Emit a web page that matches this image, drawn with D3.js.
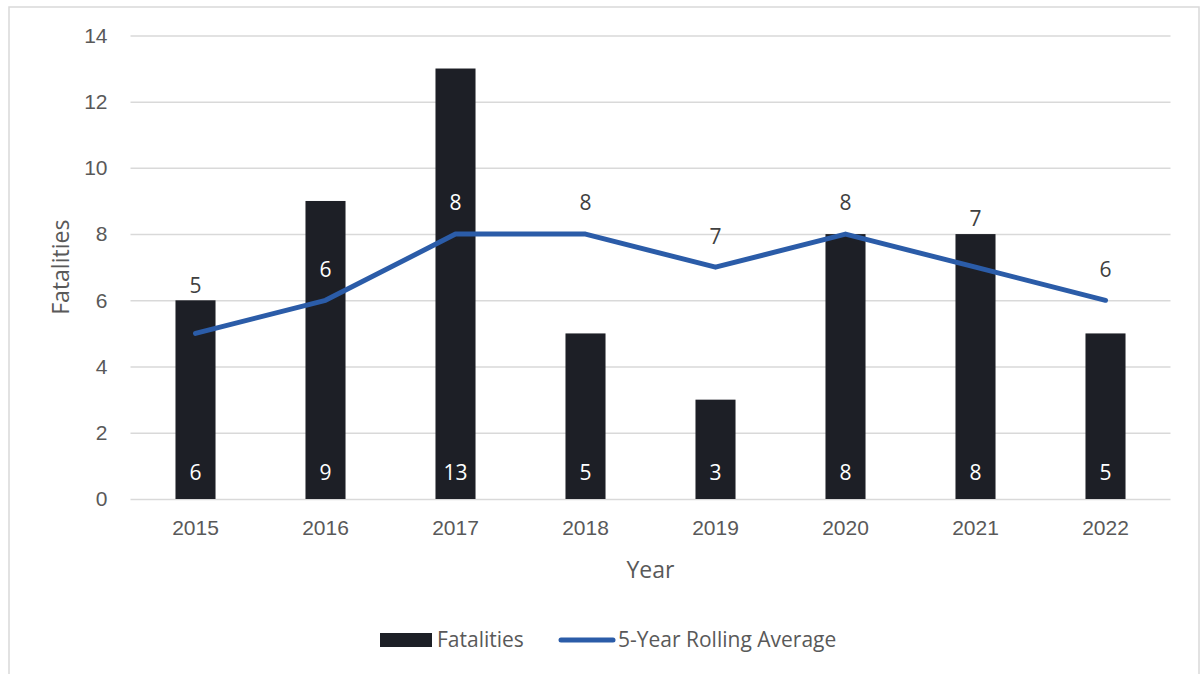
<!DOCTYPE html>
<html>
<head>
<meta charset="utf-8">
<script src="https://cdn.jsdelivr.net/npm/d3@7"></script>
<style>
  html, body { margin: 0; padding: 0; background: #fff; }
  svg { display: block; font-family: "Open Sans", "Noto Sans", sans-serif; }
</style>
</head>
<body>
<svg id="chart" width="1201" height="674"></svg>
<script>
// Yearly fatalities with a 5-year rolling average
const years = ["2015", "2016", "2017", "2018", "2019", "2020", "2021", "2022"];
const fatalities = [6, 9, 13, 5, 3, 8, 8, 5];
const rollingAvg = [5, 6, 8, 8, 7, 8, 7, 6];
const yTicks = [0, 2, 4, 6, 8, 10, 12, 14];
const seriesNames = ["Fatalities", "5-Year Rolling Average"];

const svg = d3.select("#chart");
const plot = { left: 130.5, right: 1170.5, top: 35.4, bottom: 499 };

const barColor = "#1d1f26";
const lineColor = "#2b5ca8";
const textColor = "#595959";
const fs = "21px";
const titleFs = "23px";

// Outer frame
svg.append("rect")
  .attr("x", 9).attr("y", 7)
  .attr("width", 1190).attr("height", 680)
  .attr("fill", "none")
  .attr("stroke", "#d9d9d9")
  .attr("stroke-width", 1.5);

const x = d3.scaleBand()
  .domain(years)
  .range([plot.left, plot.right])
  .paddingInner(0.692)
  .paddingOuter(0.346);

const y = d3.scaleLinear()
  .domain([0, 14])
  .range([plot.bottom, plot.top]);

// Horizontal gridlines with left-side value labels
const yAxis = d3.axisLeft(y)
  .tickValues(yTicks)
  .tickSize(-(plot.right - plot.left))
  .tickPadding(23);

const gy = svg.append("g")
  .attr("transform", `translate(${plot.left},0)`)
  .call(yAxis);
gy.select(".domain").remove();
gy.selectAll(".tick line").attr("stroke", "#d9d9d9").attr("stroke-width", 1.5);
gy.selectAll(".tick text")
  .attr("fill", textColor)
  .style("font-size", fs);

// Category axis labels
const xAxis = d3.axisBottom(x).tickSize(0).tickPadding(21);
const gx = svg.append("g")
  .attr("transform", `translate(0,${plot.bottom})`)
  .call(xAxis);
gx.select(".domain").remove();
gx.selectAll(".tick text")
  .attr("fill", textColor)
  .style("font-size", fs);

// Bars
const cx = d => x(d) + x.bandwidth() / 2;
svg.append("g").selectAll("rect")
  .data(years)
  .join("rect")
  .attr("x", d => x(d))
  .attr("width", x.bandwidth())
  .attr("y", (d, i) => y(fatalities[i]))
  .attr("height", (d, i) => y(0) - y(fatalities[i]))
  .attr("fill", barColor);

// Bar value labels at the inside base
svg.append("g").selectAll("text")
  .data(years)
  .join("text")
  .attr("x", d => cx(d))
  .attr("y", y(0) - 26)
  .attr("dy", "0.35em")
  .attr("text-anchor", "middle")
  .attr("fill", "#ffffff")
  .style("font-size", fs)
  .text((d, i) => fatalities[i]);

// Rolling average line
const line = d3.line()
  .x((d, i) => cx(years[i]))
  .y(d => y(d));

svg.append("path")
  .datum(rollingAvg)
  .attr("d", line)
  .attr("fill", "none")
  .attr("stroke", lineColor)
  .attr("stroke-width", 5)
  .attr("stroke-linecap", "round")
  .attr("stroke-linejoin", "round");

// Rolling average labels: above each point, lifted clear of a bar top they would straddle
const labelHalf = 10;
svg.append("g").selectAll("text")
  .data(rollingAvg)
  .join("text")
  .each(function (v, i) {
    let ly = y(v) - 31;
    const barTop = y(fatalities[i]);
    if (ly - labelHalf < barTop && ly + labelHalf > barTop) ly = barTop - 15;
    const inside = ly > barTop;
    d3.select(this)
      .attr("x", cx(years[i]))
      .attr("y", ly)
      .attr("dy", "0.35em")
      .attr("text-anchor", "middle")
      .attr("fill", inside ? "#ffffff" : "#404040")
      .style("font-size", fs)
      .text(v);
  });

// Axis titles
svg.append("text")
  .attr("x", (plot.left + plot.right) / 2)
  .attr("y", 570)
  .attr("dy", "0.35em")
  .attr("text-anchor", "middle")
  .attr("fill", textColor)
  .style("font-size", titleFs)
  .text("Year");

svg.append("text")
  .attr("transform", `translate(61,${(plot.top + plot.bottom) / 2}) rotate(-90)`)
  .attr("dy", "0.35em")
  .attr("text-anchor", "middle")
  .attr("fill", textColor)
  .style("font-size", titleFs)
  .text("Fatalities");

// Legend
const lg = svg.append("g");
lg.append("rect")
  .attr("x", 380).attr("y", 633)
  .attr("width", 52).attr("height", 14)
  .attr("fill", barColor);
lg.append("text")
  .attr("x", 437).attr("y", 640)
  .attr("dy", "0.35em")
  .attr("fill", textColor)
  .style("font-size", fs)
  .text(seriesNames[0]);
lg.append("line")
  .attr("x1", 561).attr("x2", 613)
  .attr("y1", 640).attr("y2", 640)
  .attr("stroke", lineColor)
  .attr("stroke-width", 5)
  .attr("stroke-linecap", "round");
lg.append("text")
  .attr("x", 618).attr("y", 640)
  .attr("dy", "0.35em")
  .attr("fill", textColor)
  .style("font-size", fs)
  .text(seriesNames[1]);
</script>
</body>
</html>
